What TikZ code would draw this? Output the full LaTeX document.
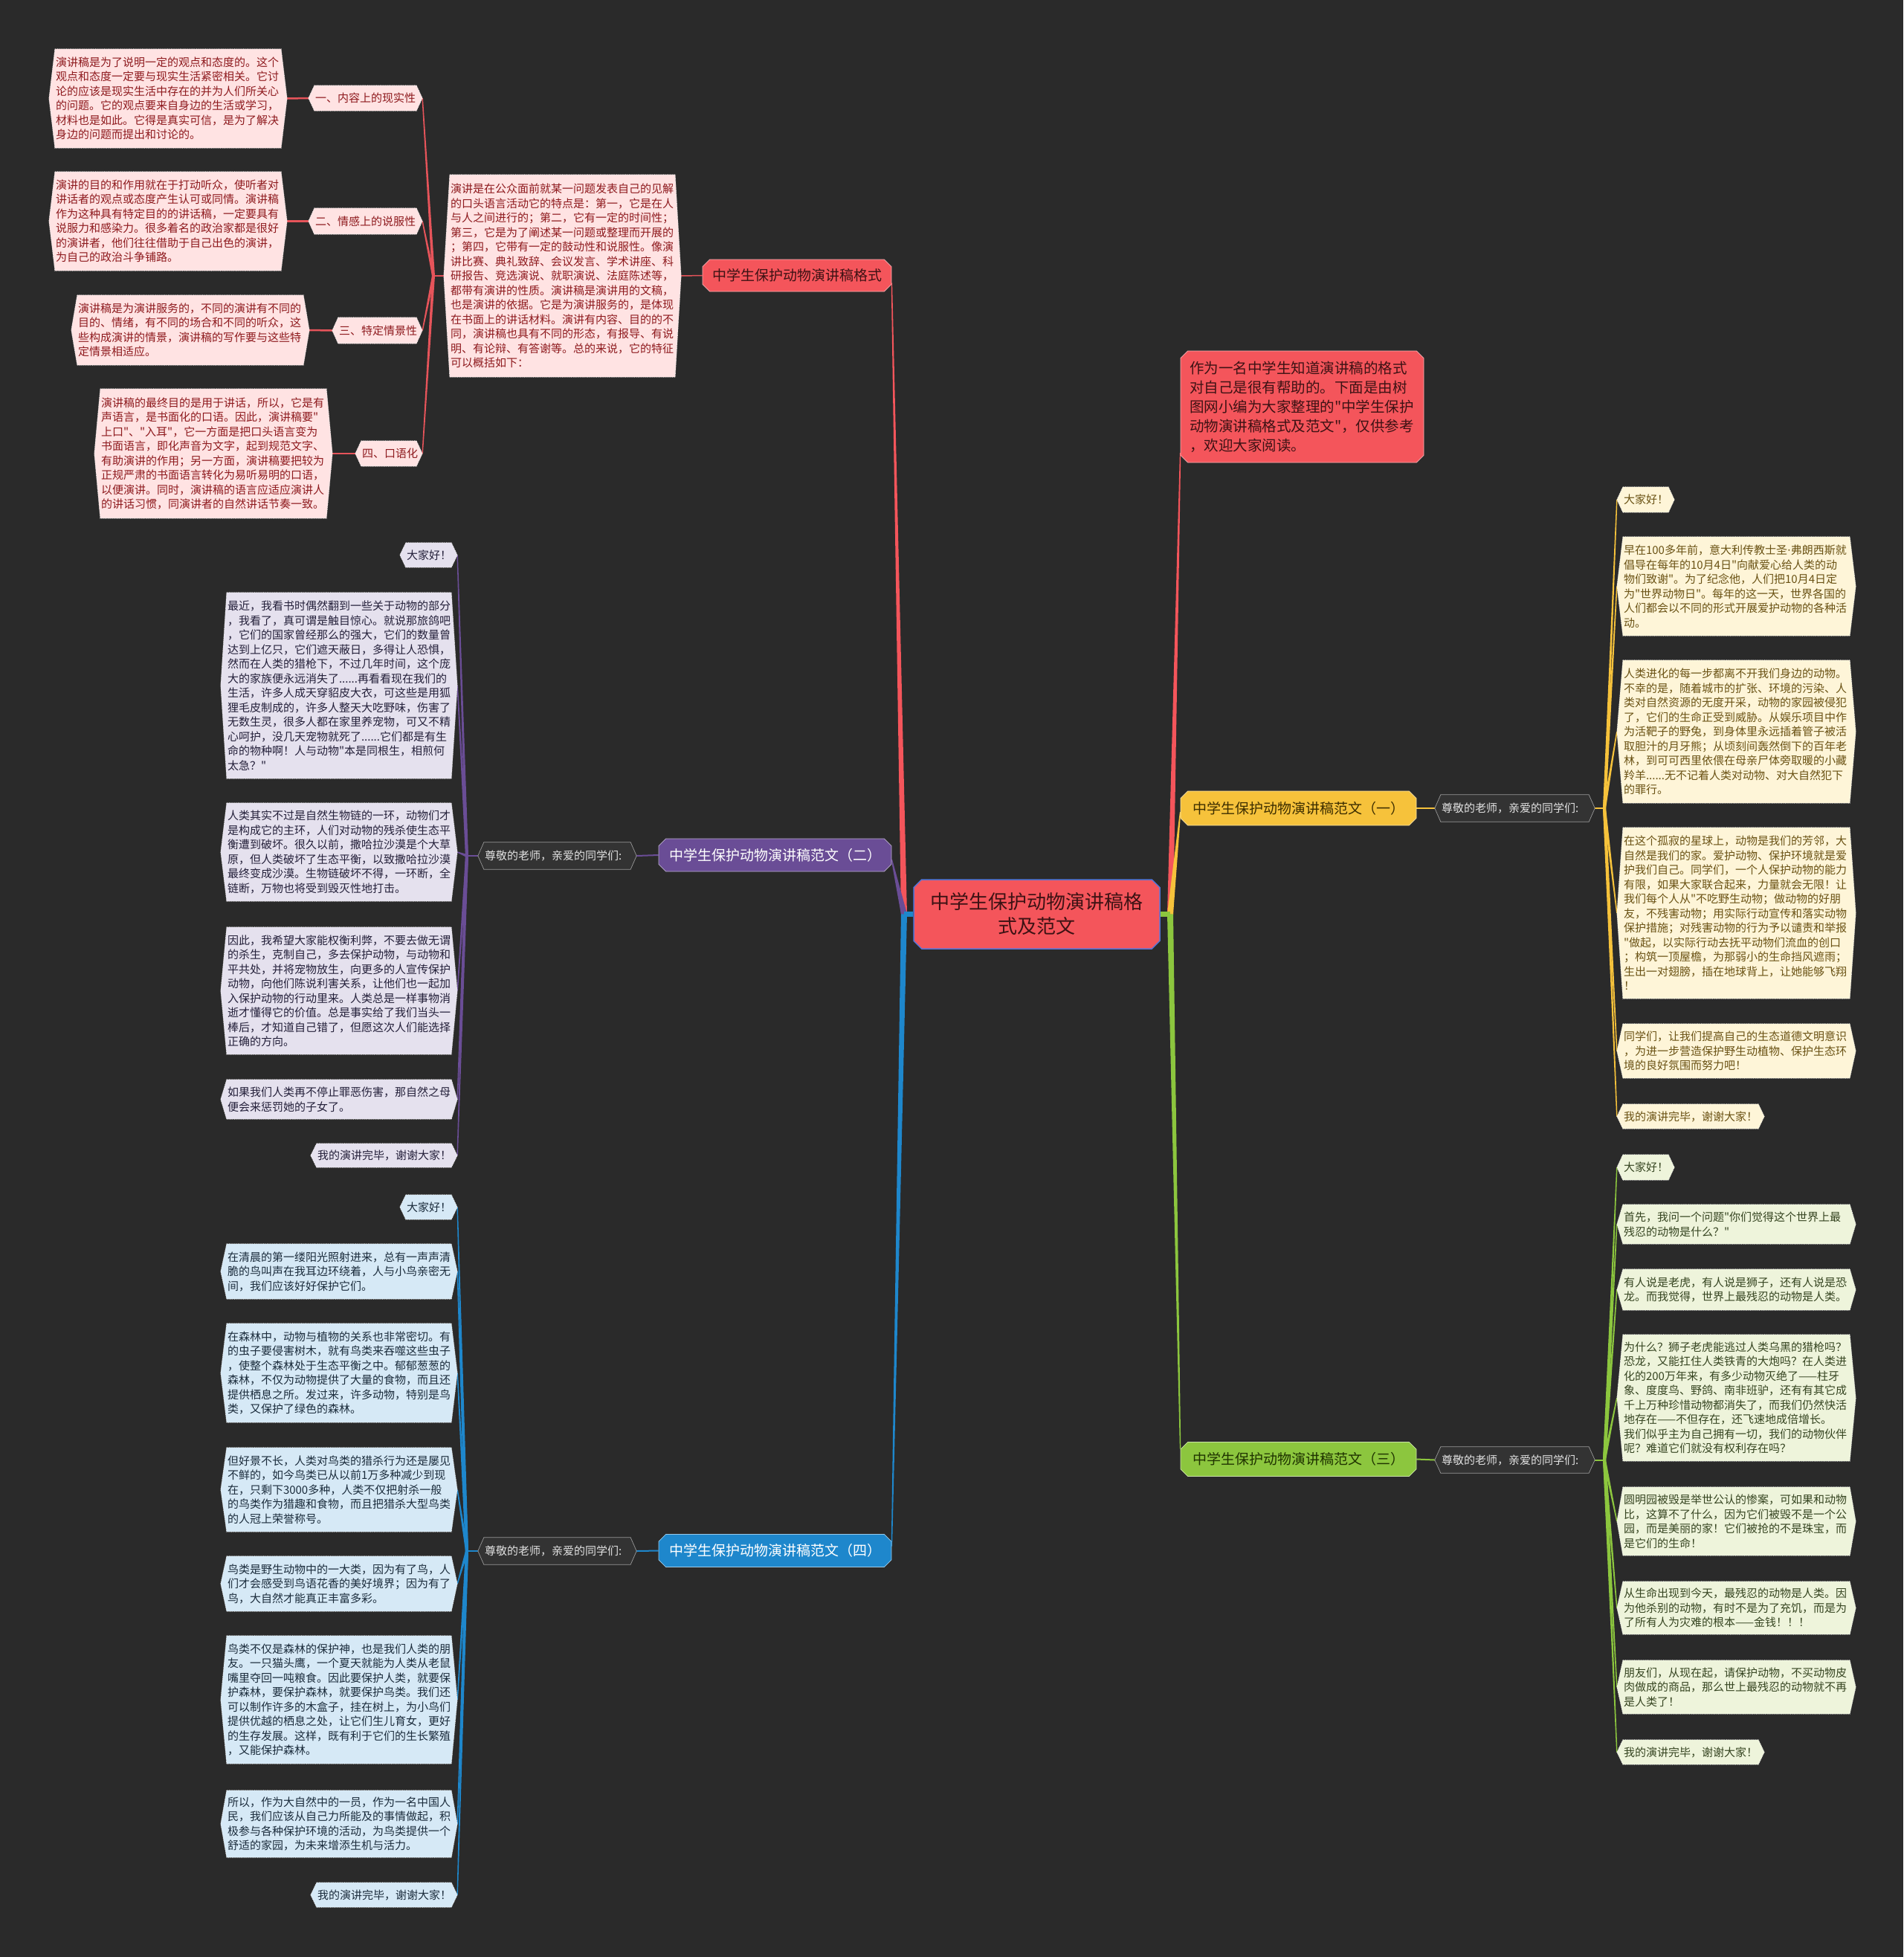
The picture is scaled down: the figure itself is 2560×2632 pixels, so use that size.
\documentclass[tikz,border=0pt]{standalone}
\usepackage{fontspec}
\setmainfont{Noto Sans CJK SC}[Ligatures=TeXOff]
\newfontfamily\dvs{DejaVu Sans}
\usetikzlibrary{calc,shapes.misc}
\pgfdeclarelayer{bgl}\pgfdeclarelayer{lines}\pgfdeclarelayer{shapes}
\pgfsetlayers{bgl,lines,shapes,main}
\definecolor{bgc}{HTML}{2A2A2A}
\definecolor{redc}{HTML}{F4555B}
\definecolor{redline}{HTML}{E6545A}
\definecolor{yelc}{HTML}{F6C23B}
\definecolor{grnc}{HTML}{8CC63E}
\definecolor{purc}{HTML}{6A4D96}
\definecolor{bluc}{HTML}{1E87CC}
\definecolor{bordb}{HTML}{5574D6}
\definecolor{redfill}{HTML}{FFE3E3}
\definecolor{redtext}{HTML}{8E1A1E}
\definecolor{yelfill}{HTML}{FEF5D8}
\definecolor{yeltext}{HTML}{6A5214}
\definecolor{grnfill}{HTML}{EEF4DB}
\definecolor{grntext}{HTML}{364521}
\definecolor{purfill}{HTML}{E5E1EE}
\definecolor{purtext}{HTML}{24203A}
\definecolor{blufill}{HTML}{D6E9F6}
\definecolor{blutext}{HTML}{1B2C3C}
\definecolor{subfill}{HTML}{333333}
\definecolor{subtext}{HTML}{E2E2E2}
\definecolor{darkred}{HTML}{3D1214}
\definecolor{darkyel}{HTML}{3D2E00}
\definecolor{darkgrn}{HTML}{1F3300}
\tikzset{
 leaf/.style={inner xsep=1pt, inner ysep=2pt, align=left, font=\fontsize{15pt}{19.5pt}\selectfont, anchor=center},
 leafborder/.style={draw=white!92!black, line width=0.7pt, densely dotted},
 branchbox/.style={chamfered rectangle, chamfered rectangle xsep=6pt, draw=white!55!#1, line width=0.8pt, fill=#1, font=\fontsize{19pt}{24pt}\selectfont, inner sep=0pt},
}
% #1 name, #2 x1, #3 y1, #4 x2, #5 y2 (flat edges), #6 shape keys, #7 text colour, #8 text
\newcommand\leafbox[8]{%
 \pgfmathsetmacro\lbw{#4-#2}%
 \pgfmathsetmacro\lbh{#5-#3}%
 \pgfmathsetmacro\lbt{#4-#2-2}%
 \node[leaf, text=#7, minimum width=\lbw pt, minimum height=\lbh pt, text width=\lbt pt] (#1) at ({(#2+#4)/2},{(#3+#5)/2}) {#8};
 \coordinate (#1-e) at ([xshift=8pt]#1.east);
 \coordinate (#1-w) at ([xshift=-8pt]#1.west);
 \begin{pgfonlayer}{shapes}
 \path[leafborder, #6] (#1.north west) -- (#1.north east) -- (#1-e) -- (#1.south east) -- (#1.south west) -- (#1-w) -- cycle;
 \end{pgfonlayer}}
% tapered connector: #1 colour, #2 from, #3 to, #4 half width at start
\newcommand\taper[4]{%
 \fill[#1] ($(#2)!#4!90:(#3)$) -- ($(#3)!0.7pt!-90:(#2)$) -- ($(#3)!0.7pt!90:(#2)$) -- ($(#2)!#4!-90:(#3)$) -- cycle;}
\begin{document}
\begin{tikzpicture}[x=1pt,y=-1pt]
\begin{pgfonlayer}{bgl}
\fill[bgc] (0,0) rectangle (2560,2632);
\end{pgfonlayer}
\useasboundingbox (0,0) rectangle (2560,2632);

% ---------- centre and branches ----------
\node[chamfered rectangle, chamfered rectangle xsep=7pt, fill=redc, draw=bordb, line width=1.5pt, minimum width=331pt, minimum height=93pt, inner sep=0pt, align=center, font=\fontsize{26pt}{33pt}\selectfont, text=darkred] (root) at (1394.5,1229.5) {中学生保护动物演讲稿格\\式及范文};

\node[branchbox=redc, minimum width=254pt, minimum height=43pt, text=darkred] (fmt) at (1072,370.5) {中学生保护动物演讲稿格式};
\node[branchbox=redc, minimum width=327pt, minimum height=150pt, text width=303pt, align=left, font=\fontsize{19.5pt}{26pt}\selectfont, text=darkred] (intro) at (1751.5,547) {作为一名中学生知道演讲稿的格式\\对自己是很有帮助的。下面是由树\\图网小编为大家整理的"中学生保护\\动物演讲稿格式及范文"，仅供参考\\，欢迎大家阅读。};
\node[branchbox=yelc, minimum width=317pt, minimum height=46pt, text=darkyel] (f1) at (1746.5,1087) {中学生保护动物演讲稿范文（一）};
\node[branchbox=grnc, minimum width=317pt, minimum height=46pt, text=darkgrn] (f3) at (1746.5,1962.5) {中学生保护动物演讲稿范文（三）};
\node[branchbox=purc, minimum width=313pt, minimum height=44pt, text=white] (f2) at (1042.5,1150) {中学生保护动物演讲稿范文（二）};
\node[branchbox=bluc, minimum width=313pt, minimum height=44pt, text=white] (f4) at (1042.5,2085.5) {中学生保护动物演讲稿范文（四）};

% ---------- red subtree ----------
\leafbox{Rp}{605}{235}{908}{507}{fill=redfill}{redtext}{演讲是在公众面前就某一问题发表自己的见解\\的口头语言活动它的特点是：第一，它是在人\\与人之间进行的；第二，它有一定的时间性；\\第三，它是为了阐述某一问题或整理而开展的\\；第四，它带有一定的鼓动性和说服性。像演\\讲比赛、典礼致辞、会议发言、学术讲座、科\\研报告、竞选演说、就职演说、法庭陈述等，\\都带有演讲的性质。演讲稿是演讲用的文稿，\\也是演讲的依据。它是为演讲服务的，是体现\\在书面上的讲话材料。演讲有内容、目的的不\\同，演讲稿也具有不同的形态，有报导、有说\\明、有论辩、有答谢等。总的来说，它的特征\\可以概括如下：}
\leafbox{S1}{423}{115}{560}{149}{fill=redfill}{redtext}{一、内容上的现实性}
\leafbox{S2}{423}{280}{560}{315}{fill=redfill}{redtext}{二、情感上的说服性}
\leafbox{S3}{455}{427}{560}{462}{fill=redfill}{redtext}{三、特定情景性}
\leafbox{S4}{486}{593}{560}{627}{fill=redfill}{redtext}{四、口语化}
\leafbox{L1}{74}{66}{378}{199}{fill=redfill}{redtext}{演讲稿是为了说明一定的观点和态度的。这个\\观点和态度一定要与现实生活紧密相关。它讨\\论的应该是现实生活中存在的并为人们所关心\\的问题。它的观点要来自身边的生活或学习，\\材料也是如此。它得是真实可信，是为了解决\\身边的问题而提出和讨论的。}
\leafbox{L2}{74}{231}{378}{364}{fill=redfill}{redtext}{演讲的目的和作用就在于打动听众，使听者对\\讲话者的观点或态度产生认可或同情。演讲稿\\作为这种具有特定目的的讲话稿，一定要具有\\说服力和感染力。很多着名的政治家都是很好\\的演讲者，他们往往借助于自己出色的演讲，\\为自己的政治斗争铺路。}
\leafbox{L3}{104}{397}{408}{491}{fill=redfill}{redtext}{演讲稿是为演讲服务的，不同的演讲有不同的\\目的、情绪，有不同的场合和不同的听众，这\\些构成演讲的情景，演讲稿的写作要与这些特\\定情景相适应。}
\leafbox{L4}{135}{523}{439}{697}{fill=redfill}{redtext}{演讲稿的最终目的是用于讲话，所以，它是有\\声语言，是书面化的口语。因此，演讲稿要"\\上口"、"入耳"，它一方面是把口头语言变为\\书面语言，即化声音为文字，起到规范文字、\\有助演讲的作用；另一方面，演讲稿要把较为\\正规严肃的书面语言转化为易听易明的口语，\\以便演讲。同时，演讲稿的语言应适应演讲人\\的讲话习惯，同演讲者的自然讲话节奏一致。}

% ---------- yellow subtree ----------
\leafbox{subY}{1938}{1069}{2137}{1105}{fill=subfill, draw=gray!80, solid}{subtext}{尊敬的老师，亲爱的同学们:}
\leafbox{Y0}{2183}{655}{2244}{689}{fill=yelfill}{yeltext}{大家好！}
\leafbox{Y1}{2183}{722}{2488}{855}{fill=yelfill}{yeltext}{早在100多年前，意大利传教士圣{\dvs ·}弗朗西斯就\\倡导在每年的10月4日"向献爱心给人类的动\\物们致谢"。为了纪念他，人们把10月4日定\\为"世界动物日"。每年的这一天，世界各国的\\人们都会以不同的形式开展爱护动物的各种活\\动。}
\leafbox{Y2}{2183}{888}{2488}{1080}{fill=yelfill}{yeltext}{人类进化的每一步都离不开我们身边的动物。\\不幸的是，随着城市的扩张、环境的污染、人\\类对自然资源的无度开采，动物的家园被侵犯\\了，它们的生命正受到威胁。从娱乐项目中作\\为活靶子的野兔，到身体里永远插着管子被活\\取胆汁的月牙熊；从顷刻间轰然倒下的百年老\\林，到可可西里依偎在母亲尸体旁取暖的小藏\\羚羊......无不记着人类对动物、对大自然犯下\\的罪行。}
\leafbox{Y3}{2183}{1113}{2488}{1343}{fill=yelfill}{yeltext}{在这个孤寂的星球上，动物是我们的芳邻，大\\自然是我们的家。爱护动物、保护环境就是爱\\护我们自己。同学们，一个人保护动物的能力\\有限，如果大家联合起来，力量就会无限！让\\我们每个人从"不吃野生动物；做动物的好朋\\友，不残害动物；用实际行动宣传和落实动物\\保护措施；对残害动物的行为予以谴责和举报\\"做起，以实际行动去抚平动物们流血的创口\\；构筑一顶屋檐，为那弱小的生命挡风遮雨；\\生出一对翅膀，插在地球背上，让她能够飞翔\\！}
\leafbox{Y4}{2183}{1377}{2488}{1450}{fill=yelfill}{yeltext}{同学们，让我们提高自己的生态道德文明意识\\，为进一步营造保护野生动植物、保护生态环\\境的良好氛围而努力吧！}
\leafbox{Y5}{2183}{1485}{2365}{1518}{fill=yelfill}{yeltext}{我的演讲完毕，谢谢大家！}

% ---------- green subtree ----------
\leafbox{subG}{1938}{1946}{2137}{1981}{fill=subfill, draw=gray!80, solid}{subtext}{尊敬的老师，亲爱的同学们:}
\leafbox{G0}{2183}{1553}{2244}{1587}{fill=grnfill}{grntext}{大家好！}
\leafbox{G1}{2183}{1620}{2488}{1673}{fill=grnfill}{grntext}{首先，我问一个问题"你们觉得这个世界上最\\残忍的动物是什么？"}
\leafbox{G2}{2183}{1707}{2488}{1762}{fill=grnfill}{grntext}{有人说是老虎，有人说是狮子，还有人说是恐\\龙。而我觉得，世界上最残忍的动物是人类。}
\leafbox{G3}{2183}{1795}{2488}{1965}{fill=grnfill}{grntext}{为什么？狮子老虎能逃过人类乌黑的猎枪吗？\\恐龙，又能扛住人类铁青的大炮吗？在人类进\\化的200万年来，有多少动物灭绝了——柱牙\\象、度度鸟、野鸽、南非班驴，还有有其它成\\千上万种珍惜动物都消失了，而我们仍然快活\\地存在——不但存在，还飞速地成倍增长。\\我们似乎主为自己拥有一切，我们的动物伙伴\\呢？难道它们就没有权利存在吗？}
\leafbox{G4}{2183}{2000}{2488}{2092}{fill=grnfill}{grntext}{圆明园被毁是举世公认的惨案，可如果和动物\\比，这算不了什么，因为它们被毁不是一个公\\园，而是美丽的家！它们被抢的不是珠宝，而\\是它们的生命！}
\leafbox{G5}{2183}{2127}{2488}{2198}{fill=grnfill}{grntext}{从生命出现到今天，最残忍的动物是人类。因\\为他杀别的动物，有时不是为了充饥，而是为\\了所有人为灾难的根本——金钱！！！}
\leafbox{G6}{2183}{2233}{2488}{2305}{fill=grnfill}{grntext}{朋友们，从现在起，请保护动物，不买动物皮\\肉做成的商品，那么世上最残忍的动物就不再\\是人类了！}
\leafbox{G7}{2183}{2340}{2365}{2373}{fill=grnfill}{grntext}{我的演讲完毕，谢谢大家！}

% ---------- purple subtree ----------
\leafbox{subP}{651}{1133}{848}{1169}{fill=subfill, draw=gray!80, solid}{subtext}{尊敬的老师，亲爱的同学们:}
\leafbox{P0}{546}{730}{607}{763}{fill=purfill}{purtext}{大家好！}
\leafbox{P1}{305}{797}{607}{1047}{fill=purfill}{purtext}{最近，我看书时偶然翻到一些关于动物的部分\\，我看了，真可谓是触目惊心。就说那旅鸽吧\\，它们的国家曾经那么的强大，它们的数量曾\\达到上亿只，它们遮天蔽日，多得让人恐惧，\\然而在人类的猎枪下，不过几年时间，这个庞\\大的家族便永远消失了......再看看现在我们的\\生活，许多人成天穿貂皮大衣，可这些是用狐\\狸毛皮制成的，许多人整天大吃野味，伤害了\\无数生灵，很多人都在家里养宠物，可又不精\\心呵护，没几天宠物就死了......它们都是有生\\命的物种啊！人与动物"本是同根生，相煎何\\太急？"}
\leafbox{P2}{305}{1080}{607}{1212}{fill=purfill}{purtext}{人类其实不过是自然生物链的一环，动物们才\\是构成它的主环，人们对动物的残杀使生态平\\衡遭到破坏。很久以前，撒哈拉沙漠是个大草\\原，但人类破坏了生态平衡，以致撒哈拉沙漠\\最终变成沙漠。生物链破坏不得，一环断，全\\链断，万物也将受到毁灭性地打击。}
\leafbox{P3}{305}{1247}{607}{1418}{fill=purfill}{purtext}{因此，我希望大家能权衡利弊，不要去做无谓\\的杀生，克制自己，多去保护动物，与动物和\\平共处，并将宠物放生，向更多的人宣传保护\\动物，向他们陈说利害关系，让他们也一起加\\入保护动物的行动里来。人类总是一样事物消\\逝才懂得它的价值。总是事实给了我们当头一\\棒后，才知道自己错了，但愿这次人们能选择\\正确的方向。}
\leafbox{P4}{305}{1452}{607}{1505}{fill=purfill}{purtext}{如果我们人类再不停止罪恶伤害，那自然之母\\便会来惩罚她的子女了。}
\leafbox{P5}{426}{1538}{607}{1570}{fill=purfill}{purtext}{我的演讲完毕，谢谢大家！}

% ---------- blue subtree ----------
\leafbox{subB}{651}{2068}{848}{2104}{fill=subfill, draw=gray!80, solid}{subtext}{尊敬的老师，亲爱的同学们:}
\leafbox{B0}{546}{1607}{607}{1640}{fill=blufill}{blutext}{大家好！}
\leafbox{B1}{305}{1673}{607}{1747}{fill=blufill}{blutext}{在清晨的第一缕阳光照射进来，总有一声声清\\脆的鸟叫声在我耳边环绕着，人与小鸟亲密无\\间，我们应该好好保护它们。}
\leafbox{B2}{305}{1780}{607}{1913}{fill=blufill}{blutext}{在森林中，动物与植物的关系也非常密切。有\\的虫子要侵害树木，就有鸟类来吞噬这些虫子\\，使整个森林处于生态平衡之中。郁郁葱葱的\\森林，不仅为动物提供了大量的食物，而且还\\提供栖息之所。发过来，许多动物，特别是鸟\\类，又保护了绿色的森林。}
\leafbox{B3}{305}{1947}{607}{2060}{fill=blufill}{blutext}{但好景不长，人类对鸟类的猎杀行为还是屡见\\不鲜的，如今鸟类已从以前1万多种减少到现\\在，只剩下3000多种，人类不仅把射杀一般\\的鸟类作为猎趣和食物，而且把猎杀大型鸟类\\的人冠上荣誉称号。}
\leafbox{B4}{305}{2093}{607}{2167}{fill=blufill}{blutext}{鸟类是野生动物中的一大类，因为有了鸟，人\\们才会感受到鸟语花香的美好境界；因为有了\\鸟，大自然才能真正丰富多彩。}
\leafbox{B5}{305}{2200}{607}{2372}{fill=blufill}{blutext}{鸟类不仅是森林的保护神，也是我们人类的朋\\友。一只猫头鹰，一个夏天就能为人类从老鼠\\嘴里夺回一吨粮食。因此要保护人类，就要保\\护森林，要保护森林，就要保护鸟类。我们还\\可以制作许多的木盒子，挂在树上，为小鸟们\\提供优越的栖息之处，让它们生儿育女，更好\\的生存发展。这样，既有利于它们的生长繁殖\\，又能保护森林。}
\leafbox{B6}{305}{2408}{607}{2498}{fill=blufill}{blutext}{所以，作为大自然中的一员，作为一名中国人\\民，我们应该从自己力所能及的事情做起，积\\极参与各种保护环境的活动，为鸟类提供一个\\舒适的家园，为未来增添生机与活力。}
\leafbox{B7}{426}{2532}{607}{2565}{fill=blufill}{blutext}{我的演讲完毕，谢谢大家！}

% ---------- connectors ----------
\begin{pgfonlayer}{lines}
\coordinate (hubL) at (1216,1229.5);
\coordinate (hubR) at (1574,1229.5);
\coordinate (fmtE) at ([yshift=-10pt]fmt.east);
\coordinate (f2E) at ([yshift=-6pt]f2.east);
\coordinate (f4E) at ([yshift=6pt]f4.east);
\coordinate (introW) at ([yshift=-62pt]intro.west);
\coordinate (f1W) at ([yshift=-5pt]f1.west);
\coordinate (f3W) at ([yshift=14pt]f3.west);
\taper{redc}{hubL}{fmtE}{4pt}
\taper{purc}{hubL}{f2E}{4pt}
\taper{bluc}{hubL}{f4E}{4pt}
\draw[bluc, line width=7pt] (root.west) -- (hubL);
\taper{redc}{hubR}{introW}{4pt}
\taper{yelc}{hubR}{f1W}{4pt}
\taper{grnc}{hubR}{f3W}{4pt}
\draw[grnc, line width=7pt] (root.east) -- (hubR);

% red subtree
\coordinate (hubRed) at (583,371);
\draw[redline, line width=1.5pt] (fmt.west) -- (Rp-e);
\draw[redline, line width=2pt] (Rp-w) -- (hubRed);
\foreach \s in {S1,S2,S3,S4} {\taper{redline}{hubRed}{\s-e}{2pt}}
\draw[redline, line width=2.5pt] (L1-e) -- (S1-w);
\draw[redline, line width=2.5pt] (L2-e) -- (S2-w);
\draw[redline, line width=2.5pt] (L3-e) -- (S3-w);
\draw[redline, line width=2.5pt] (L4-e) -- (S4-w);

% yellow
\coordinate (hubY) at (2158,1087);
\draw[yelc, line width=2pt] (f1.east) -- (subY-w);
\draw[yelc, line width=2pt] (subY-e) -- (hubY);
\foreach \s in {Y0,Y1,Y2,Y3,Y4,Y5} {\taper{yelc}{hubY}{\s-w}{2pt}}

% green
\coordinate (hubG) at (2158,1963.5);
\draw[grnc, line width=2pt] (f3.east) -- (subG-w);
\draw[grnc, line width=2pt] (subG-e) -- (hubG);
\foreach \s in {G0,G1,G2,G3,G4,G5,G6,G7} {\taper{grnc}{hubG}{\s-w}{2pt}}

% purple
\coordinate (hubP) at (628,1151);
\draw[purc, line width=2pt] (f2.west) -- (subP-e);
\draw[purc, line width=2pt] (subP-w) -- (hubP);
\foreach \s in {P0,P1,P2,P3,P4,P5} {\taper{purc}{hubP}{\s-e}{2pt}}

% blue
\coordinate (hubB) at (628,2086);
\draw[bluc, line width=2pt] (f4.west) -- (subB-e);
\draw[bluc, line width=2pt] (subB-w) -- (hubB);
\foreach \s in {B0,B1,B2,B3,B4,B5,B6,B7} {\taper{bluc}{hubB}{\s-e}{2pt}}
\end{pgfonlayer}
\end{tikzpicture}
\end{document}
